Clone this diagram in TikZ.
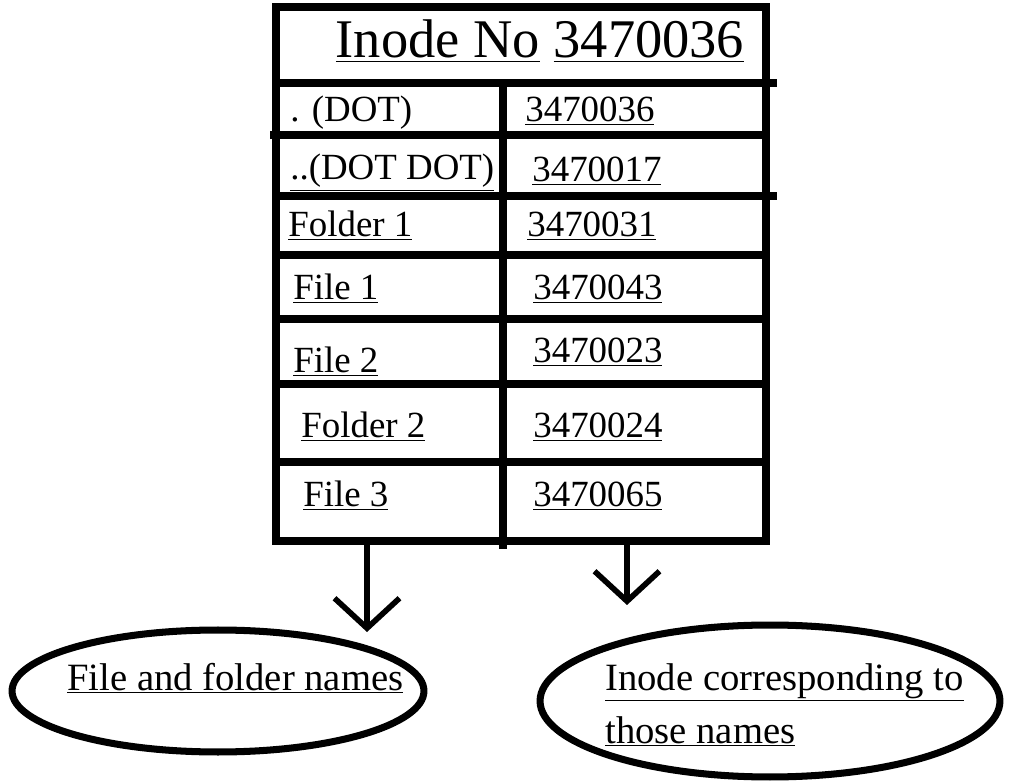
\documentclass[tikz,border=0pt]{standalone}
\usepackage{fontspec}
\setmainfont{Liberation Serif}
\usetikzlibrary{arrows.meta,shapes.geometric}

\begin{document}
\begin{tikzpicture}
  [x=0.02cm,y=-0.02cm,
   cell/.style={anchor=base west,inner sep=0pt,font=\fontsize{21}{25}\selectfont},
   note/.style={anchor=base west,inner sep=0pt,font=\fontsize{22}{26}\selectfont},
   oval/.style={ellipse,draw,line width=4pt,inner sep=0pt},
   bar/.style={line width=4.5pt},
   arr/.style={line width=3.2pt,-{Straight Barb[length=6mm,width=13mm]}}]
  \useasboundingbox (0,0) rectangle (1011,783);

  % the directory table
  \draw[bar] (276,7) rectangle (766,541);
  \draw[bar] (276,83) -- (777,83);
  \draw[bar] (270,135) -- (766,135);
  \draw[bar] (276,196) -- (777,196);
  \foreach \y in {255,319,384,462}
    \draw[bar] (276,\y) -- (766,\y);
  \draw[bar] (503,83) -- (503,549);

  \node[anchor=base,inner sep=0pt,font=\fontsize{31}{36}\selectfont] (head) at (540,58)
    {\underline{Inode No} \underline{3470036}};

  \node[cell] (n1) at (290,122) {\underline{. (DOT)}};
  \node[cell] (i1) at (525,122) {\underline{3470036}};
  \node[cell] (n2) at (290,180) {\underline{..(DOT DOT)}};
  \node[cell] (i2) at (532,182) {\underline{3470017}};
  \node[cell] (n3) at (288,237) {\underline{Folder 1}};
  \node[cell] (i3) at (527,237) {\underline{3470031}};
  \node[cell] (n4) at (293,300) {\underline{File 1}};
  \node[cell] (i4) at (533,300) {\underline{3470043}};
  \node[cell] (n5) at (293,373) {\underline{File 2}};
  \node[cell] (i5) at (533,363) {\underline{3470023}};
  \node[cell] (n6) at (301,438) {\underline{Folder 2}};
  \node[cell] (i6) at (533,438) {\underline{3470024}};
  \node[cell] (n7) at (303,507) {\underline{File 3}};
  \node[cell] (i7) at (533,507) {\underline{3470065}};

  % the two ovals
  \node[oval,minimum width=8.24cm,minimum height=2.44cm] (names) at (218,691) {};
  \node[oval,minimum width=9.2cm,minimum height=3.04cm] (inodes) at (770,701) {};
  \node[note] (namestxt) at (67,690) {\underline{File and folder names}};
  \node[note] (inodetxt) at (605,690) {\underline{Inode corresponding to}};
  \node[note] (inodetxt2) at (605,743) {\underline{those names}};

  \coordinate (colA) at (367,541);
  \coordinate (tipA) at (367,632);
  \coordinate (colB) at (627,541);
  \coordinate (tipB) at (627,605);
  \draw[arr] (colA) -- (tipA);
  \draw[arr] (colB) -- (tipB);

\end{tikzpicture}
\end{document}
